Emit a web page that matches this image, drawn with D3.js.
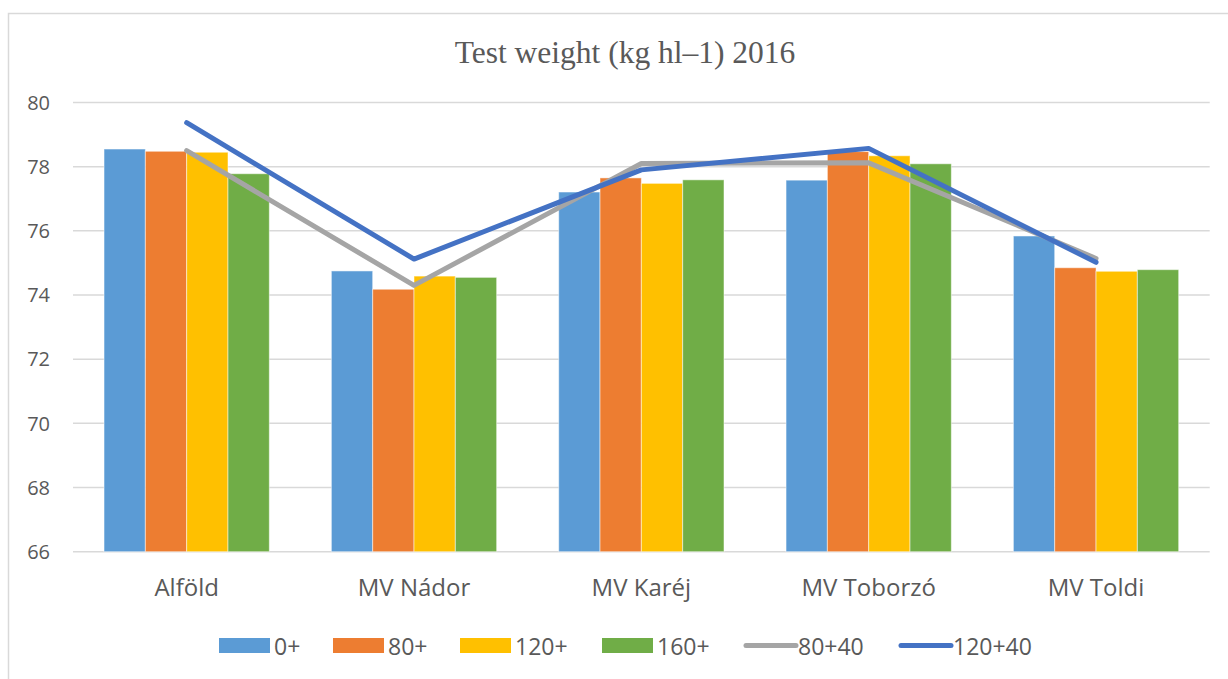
<html>
<head>
<meta charset="utf-8">
<title>Test weight 2016</title>
<script src="https://d3js.org/d3.v7.min.js"></script>
<style>
  body { margin: 0; background: #fff; }
</style>
</head>
<body>
<div id="chart"></div>
<script>
// input data
var categories = ["Alföld", "MV Nádor", "MV Karéj", "MV Toborzó", "MV Toldi"];
var barSeries = ["0+", "80+", "120+", "160+"];
var v0 = [78.55, 74.75, 77.21, 77.58, 75.84];
var v80 = [78.48, 74.18, 77.65, 78.47, 74.85];
var v120 = [78.45, 74.59, 77.48, 78.34, 74.74];
var v160 = [77.78, 74.55, 77.59, 78.09, 74.79];
var lineSeries = ["80+40", "120+40"];
var l80_40 = [78.5, 74.3, 78.1, 78.12, 75.14];
var l120_40 = [79.37, 75.12, 77.9, 78.57, 75.02];
var yTicks = [66, 68, 70, 72, 74, 76, 78, 80];

var barValues = [v0, v80, v120, v160];
var lineValues = [l80_40, l120_40];
var barColors = ["#5b9bd5", "#ed7d31", "#ffc000", "#70ad47"];
var lineColors = ["#a5a5a5", "#4472c4"];

var W = 1228, H = 679;
var plotLeft = 73, plotRight = 1209.7, plotTop = 102.5, plotBottom = 551.7;

var svg = d3.select("#chart").append("svg")
    .attr("width", W)
    .attr("height", H);

// chart border (only top and left visible in the picture)
svg.append("rect")
    .attr("x", 8.5).attr("y", 13.5)
    .attr("width", W + 20).attr("height", H + 20)
    .attr("fill", "none")
    .attr("stroke", "#d9d9d9")
    .attr("stroke-width", 1.5);

var x0 = d3.scaleBand().domain(categories).range([plotLeft, plotRight]).padding(0);
var groupW = 165.3;
var x1 = d3.scaleBand().domain(barSeries).range([0, groupW]).padding(0);
var y = d3.scaleLinear().domain([66, 80]).range([plotBottom, plotTop]);

// gridlines
svg.append("g")
  .selectAll("line")
  .data(yTicks)
  .enter().append("line")
    .attr("x1", plotLeft).attr("x2", plotRight)
    .attr("y1", function(d){ return y(d); })
    .attr("y2", function(d){ return y(d); })
    .attr("stroke", "#d9d9d9")
    .attr("stroke-width", 1.5);

// y tick labels
svg.append("g")
  .selectAll("text")
  .data(yTicks)
  .enter().append("text")
    .attr("x", 50)
    .attr("y", function(d){ return y(d); })
    .attr("dy", "0.36em")
    .attr("text-anchor", "end")
    .style("font-family", "'Open Sans'")
    .style("font-size", "20px")
    .style("fill", "#595959")
    .text(function(d){ return d; });

// bars
var off = (x0.bandwidth() - groupW) / 2;
barSeries.forEach(function(s, i) {
  svg.append("g")
    .selectAll("rect")
    .data(barValues[i])
    .enter().append("rect")
      .attr("x", function(d, j){ return x0(categories[j]) + off + x1(s); })
      .attr("y", function(d){ return y(d); })
      .attr("width", x1.bandwidth())
      .attr("height", function(d){ return y(66) - y(d); })
      .attr("fill", barColors[i])
      .attr("stroke", "#ffffff")
      .attr("stroke-opacity", 0.5)
      .attr("stroke-width", 1);
});

// lines
var line = d3.line()
    .x(function(d, j){ return x0(categories[j]) + x0.bandwidth() / 2; })
    .y(function(d){ return y(d); });

lineSeries.forEach(function(s, i) {
  svg.append("path")
    .datum(lineValues[i])
    .attr("d", line)
    .attr("fill", "none")
    .attr("stroke", lineColors[i])
    .attr("stroke-width", 5)
    .attr("stroke-linecap", "round")
    .attr("stroke-linejoin", "round");
});

// category labels
svg.append("g")
  .selectAll("text")
  .data(categories)
  .enter().append("text")
    .attr("x", function(d){ return x0(d) + x0.bandwidth() / 2; })
    .attr("y", 596)
    .attr("text-anchor", "middle")
    .style("font-family", "'Open Sans'")
    .style("font-size", "24px")
    .style("fill", "#595959")
    .text(function(d){ return d; });

// title
svg.append("text")
    .attr("x", 625)
    .attr("y", 63)
    .attr("text-anchor", "middle")
    .style("font-family", "'Liberation Serif'")
    .style("font-size", "31.5px")
    .style("fill", "#595959")
    .text("Test weight (kg hl\u20131) 2016");

// legend
var legendX = [219, 333, 460, 602, 743, 898];
var legendItems = barSeries.concat(lineSeries);
var lg = svg.append("g");
legendItems.forEach(function(s, i) {
  var xx = legendX[i];
  if (i < 4) {
    lg.append("rect")
      .attr("x", xx).attr("y", 638)
      .attr("width", 51).attr("height", 15)
      .attr("fill", barColors[i]);
  } else {
    lg.append("line")
      .attr("x1", xx + 3).attr("x2", xx + 53)
      .attr("y1", 645.5).attr("y2", 645.5)
      .attr("stroke", lineColors[i - 4])
      .attr("stroke-width", 5)
      .attr("stroke-linecap", "round");
  }
  lg.append("text")
    .attr("x", xx + 55)
    .attr("y", 655)
    .style("font-family", "'Open Sans'")
    .style("font-size", "23px")
    .style("fill", "#595959")
    .text(s);
});
</script>
</body>
</html>
